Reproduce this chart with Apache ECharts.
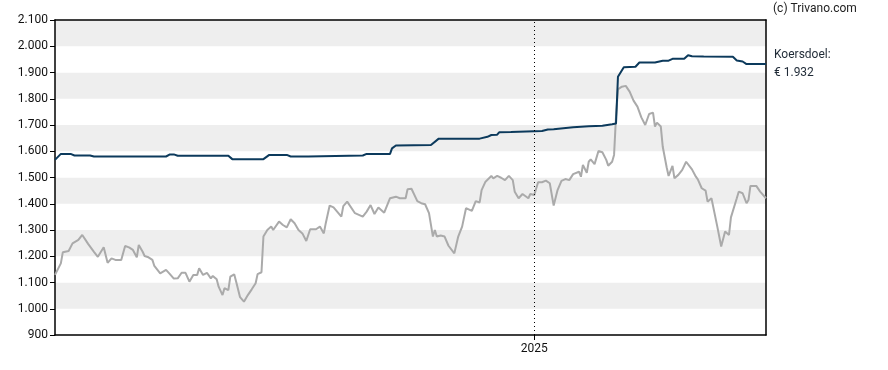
<!DOCTYPE html>
<html><head><meta charset="utf-8">
<script src="https://cdn.jsdelivr.net/npm/echarts@6/dist/echarts.min.js"></script>
<style>html,body{margin:0;padding:0;background:#fff}#c{width:888px;height:370px}</style>
</head><body><div id="c"></div>
<script>
var priceDates = ['2024-04-30','2024-05-03','2024-05-04','2024-05-07','2024-05-09','2024-05-12','2024-05-14','2024-05-15','2024-05-17','2024-05-18','2024-05-20','2024-05-21','2024-05-22','2024-05-25','2024-05-27','2024-05-29','2024-05-31','2024-06-03','2024-06-05','2024-06-07','2024-06-09','2024-06-11','2024-06-12','2024-06-14','2024-06-15','2024-06-17','2024-06-19','2024-06-20','2024-06-21','2024-06-23','2024-06-26','2024-06-28','2024-06-30','2024-07-02','2024-07-04','2024-07-05','2024-07-06','2024-07-08','2024-07-09','2024-07-10','2024-07-12','2024-07-13','2024-07-15','2024-07-17','2024-07-19','2024-07-20','2024-07-22','2024-07-23','2024-07-25','2024-07-26','2024-07-28','2024-07-29','2024-07-31','2024-08-01','2024-08-03','2024-08-05','2024-08-07','2024-08-09','2024-08-11','2024-08-12','2024-08-14','2024-08-15','2024-08-17','2024-08-19','2024-08-20','2024-08-23','2024-08-25','2024-08-27','2024-08-29','2024-08-31','2024-09-02','2024-09-04','2024-09-06','2024-09-08','2024-09-09','2024-09-11','2024-09-13','2024-09-15','2024-09-16','2024-09-18','2024-09-20','2024-09-21','2024-09-24','2024-09-25','2024-09-27','2024-09-28','2024-10-01','2024-10-02','2024-10-05','2024-10-07','2024-10-09','2024-10-11','2024-10-13','2024-10-16','2024-10-19','2024-10-20','2024-10-22','2024-10-24','2024-10-25','2024-10-27','2024-10-28','2024-10-30','2024-11-02','2024-11-04','2024-11-06','2024-11-08','2024-11-10','2024-11-11','2024-11-12','2024-11-14','2024-11-16','2024-11-18','2024-11-19','2024-11-21','2024-11-23','2024-11-25','2024-11-27','2024-11-28','2024-11-30','2024-12-02','2024-12-04','2024-12-05','2024-12-07','2024-12-10','2024-12-11','2024-12-13','2024-12-15','2024-12-17','2024-12-19','2024-12-21','2024-12-22','2024-12-24','2024-12-26','2024-12-27','2024-12-29','2024-12-30','2025-01-01','2025-01-03','2025-01-05','2025-01-07','2025-01-09','2025-01-11','2025-01-13','2025-01-15','2025-01-17','2025-01-19','2025-01-21','2025-01-24','2025-01-25','2025-01-26','2025-01-28','2025-01-29','2025-01-30','2025-02-01','2025-02-03','2025-02-05','2025-02-07','2025-02-08','2025-02-10','2025-02-11','2025-02-12','2025-02-13','2025-02-15','2025-02-17','2025-02-19','2025-02-21','2025-02-23','2025-02-25','2025-02-26','2025-02-27','2025-03-01','2025-03-03','2025-03-04','2025-03-05','2025-03-07','2025-03-08','2025-03-10','2025-03-11','2025-03-13','2025-03-14','2025-03-16','2025-03-18','2025-03-20','2025-03-21','2025-03-23','2025-03-25','2025-03-26','2025-03-28','2025-03-30','2025-03-31','2025-04-02','2025-04-03','2025-04-05','2025-04-07','2025-04-09','2025-04-11','2025-04-12','2025-04-13','2025-04-15','2025-04-16','2025-04-18','2025-04-20','2025-04-21','2025-04-22','2025-04-25','2025-04-26','2025-04-27','2025-04-28','2025-04-30'];
var priceValues = [1129,1173,1215,1220,1249,1262,1281,1281,1247,1247,1217,1216,1198,1234,1175,1192,1186,1186,1239,1234,1224,1196,1243,1217,1201,1196,1186,1163,1160,1135,1148,1132,1115,1116,1137,1135,1137,1103,1107,1129,1129,1154,1129,1137,1116,1125,1112,1084,1052,1078,1071,1122,1131,1103,1044,1027,1052,1074,1097,1132,1139,1275,1300,1313,1300,1332,1319,1310,1341,1326,1300,1287,1258,1303,1300,1303,1313,1287,1326,1393,1386,1383,1351,1391,1408,1402,1364,1366,1351,1370,1395,1361,1386,1366,1421,1421,1427,1421,1424,1421,1455,1457,1410,1402,1398,1364,1275,1300,1275,1279,1275,1240,1237,1211,1275,1313,1383,1385,1373,1410,1405,1452,1484,1506,1497,1506,1499,1490,1506,1490,1446,1421,1437,1436,1421,1437,1433,1482,1482,1488,1478,1393,1452,1487,1494,1490,1513,1522,1503,1548,1518,1560,1569,1551,1601,1596,1567,1545,1560,1586,1732,1836,1846,1849,1827,1793,1770,1729,1726,1700,1742,1747,1694,1709,1694,1617,1539,1506,1544,1497,1510,1529,1560,1556,1531,1503,1493,1459,1450,1408,1421,1417,1313,1237,1294,1281,1348,1345,1421,1446,1440,1402,1414,1468,1468,1463,1446,1452,1421];

var targetDates = ['2024-04-30','2024-05-01','2024-05-03','2024-05-08','2024-05-10','2024-05-18','2024-05-20','2024-06-26','2024-06-28','2024-06-30','2024-07-02','2024-07-28','2024-07-30','2024-08-15','2024-08-18','2024-08-27','2024-08-29','2024-09-07','2024-09-08','2024-10-05','2024-10-07','2024-10-19','2024-10-20','2024-10-22','2024-11-09','2024-11-10','2024-11-13','2024-12-04','2024-12-05','2024-12-08','2024-12-10','2024-12-13','2024-12-14','2024-12-20','2024-12-21','2025-01-05','2025-01-08','2025-01-11','2025-01-12','2025-01-21','2025-01-29','2025-02-05','2025-02-10','2025-02-12','2025-02-13','2025-02-16','2025-02-22','2025-02-24','2025-03-04','2025-03-08','2025-03-11','2025-03-13','2025-03-19','2025-03-21','2025-03-23','2025-03-29','2025-03-30','2025-04-13','2025-04-15','2025-04-18','2025-04-20','2025-04-30'];
var targetValues = [1567,1567,1590,1590,1584,1584,1580,1580,1588,1588,1583,1583,1570,1570,1586,1586,1580,1580,1584,1584,1590,1590,1611,1622,1624,1630,1648,1648,1653,1655,1662,1663,1672,1673,1676,1677,1683,1684,1690,1691,1695,1697,1703,1706,1884,1920,1922,1938,1938,1945,1945,1952,1952,1966,1962,1961,1960,1960,1946,1942,1932,1932];

var yTicks = [900,1000,1100,1200,1300,1400,1500,1600,1700,1800,1900,2000,2100];
var xRange = ['2024-04-30', '2025-04-30'];
var yearMarks = ['2025-01-01'];
var yearLabels = ['2025'];
var creditText = '(c) Trivano.com';
var targetLabel = 'Koersdoel:';
var targetText = '€ 1.932';

function ts(d) { return Date.UTC(+d.slice(0, 4), +d.slice(5, 7) - 1, +d.slice(8, 10)); }
function zip(a, b) { return a.map(function (d, i) { return [ts(d), b[i]]; }); }
function fmt(v) { var s = String(v); return s.length > 3 ? s.slice(0, s.length - 3) + '.' + s.slice(-3) : s; }

var chart = echarts.init(document.getElementById('c'), null, { renderer: 'canvas' });
var FONT = 'Roboto, "Noto Sans", sans-serif';
var yearTs = yearMarks.map(ts);

chart.setOption({
  animation: false,
  backgroundColor: '#ffffff',
  grid: { left: 55, right: 122, top: 20, bottom: 35 },
  xAxis: [{
    type: 'value',
    min: ts(xRange[0]),
    max: ts(xRange[1]),
    axisLine: { show: true, lineStyle: { color: '#000', width: 1.5 } },
    axisTick: { show: true, length: 5, lineStyle: { color: '#000' }, customValues: yearTs },
    axisLabel: {
      show: true, customValues: yearTs, margin: 8, color: '#111', fontFamily: FONT, fontSize: 12,
      formatter: function (v) { var i = yearTs.indexOf(+v); return i >= 0 ? yearLabels[i] : ''; }
    },
    splitLine: { show: false }
  }, {
    type: 'value', position: 'top',
    min: ts(xRange[0]), max: ts(xRange[1]),
    axisLine: { show: true, onZero: false, lineStyle: { color: '#000', width: 1.5 } },
    axisTick: { show: false }, axisLabel: { show: false }, splitLine: { show: false }
  }],
  yAxis: [{
    type: 'value', min: yTicks[0], max: yTicks[yTicks.length - 1], interval: 100,
    axisLine: { show: true, lineStyle: { color: '#000', width: 1.5 } },
    axisTick: { show: true, length: 5, lineStyle: { color: '#000' } },
    axisLabel: { margin: 7, color: '#111', fontFamily: FONT, fontSize: 12, formatter: fmt },
    splitLine: { show: false },
    splitArea: { show: true, areaStyle: { color: ['#ffffff', '#eeeeee'] } }
  }, {
    type: 'value', position: 'right', min: yTicks[0], max: yTicks[yTicks.length - 1], interval: 100,
    axisLine: { show: true, onZero: false, lineStyle: { color: '#000', width: 1.5 } },
    axisTick: { show: false }, axisLabel: { show: false }, splitLine: { show: false }, splitArea: { show: false }
  }],
  series: [{
    type: 'line', name: 'Koers', data: zip(priceDates, priceValues),
    symbol: 'none', smooth: false,
    lineStyle: { color: '#aaaaaa', width: 2 },
    markLine: {
      silent: true, symbol: ['none', 'none'], label: { show: false },
      lineStyle: { color: '#000', type: [1, 3], width: 1 },
      data: yearTs.map(function (t) { return { xAxis: t }; })
    },
    z: 2
  }, {
    type: 'line', name: 'Koersdoel', data: zip(targetDates, targetValues),
    symbol: 'none', smooth: false,
    lineStyle: { color: '#0c3a5c', width: 2 },
    z: 3
  }],
  graphic: [
    { type: 'text', left: 773, top: 3, style: { text: creditText, fill: '#222', font: '12px ' + FONT } },
    { type: 'text', left: 774, top: 49, style: { text: targetLabel, fill: '#1f2a36', font: '12px ' + FONT } },
    { type: 'text', left: 774, top: 67, style: { text: targetText, fill: '#1f2a36', font: '12px ' + FONT } }
  ]
});
</script></body></html>
